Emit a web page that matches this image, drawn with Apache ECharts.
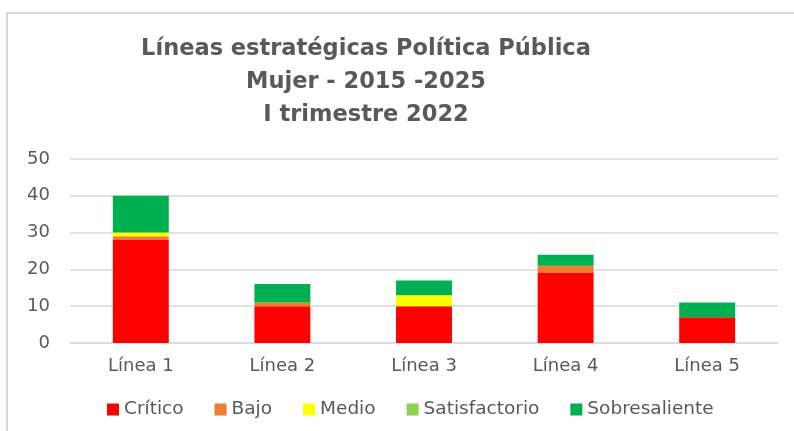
<!DOCTYPE html>
<html>
<head>
<meta charset="utf-8">
<script src="https://cdn.jsdelivr.net/npm/echarts@6/dist/echarts.min.js"></script>
<style>
html,body{margin:0;padding:0;background:#fff;}
#chart{width:794px;height:431px;}
</style>
</head>
<body>
<div id="chart"></div>
<script>
const titleText = 'Líneas estratégicas Política Pública\nMujer - 2015 -2025\nI trimestre 2022';
const categories = ['Línea 1', 'Línea 2', 'Línea 3', 'Línea 4', 'Línea 5'];
const seriesNames = ['Crítico', 'Bajo', 'Medio', 'Satisfactorio', 'Sobresaliente'];
const critico = [28, 10, 10, 19, 7];
const bajo = [1, 1, 0, 2, 0];
const medio = [1, 0, 3, 0, 0];
const satisfactorio = [0, 0, 0, 0, 0];
const sobresaliente = [10, 5, 4, 3, 4];
const yTicks = [0, 10, 20, 30, 40, 50];

const colors = ['#FF0000', '#ED7D31', '#FFFF00', '#92D050', '#00B050'];
const values = [critico, bajo, medio, satisfactorio, sobresaliente];
const textColor = '#595959';
const font = 'DejaVu Sans';

const chart = echarts.init(document.getElementById('chart'));
chart.setOption({
  animation: false,
  color: colors,
  title: {
    text: titleText,
    left: 361,
    top: 28,
    textAlign: 'center',
    textStyle: {
      fontFamily: font,
      fontWeight: 'bold',
      fontSize: 22.5,
      lineHeight: 33,
      color: textColor
    }
  },
  legend: {
    data: seriesNames,
    left: 102,
    top: 395,
    itemWidth: 12,
    itemHeight: 12,
    itemGap: 31,
    icon: 'rect',
    textStyle: { fontFamily: font, fontSize: 18.5, color: textColor }
  },
  grid: { left: 70, right: 16, top: 159, bottom: 88, containLabel: false },
  xAxis: {
    type: 'category',
    data: categories,
    axisLine: { show: true, lineStyle: { color: '#d9d9d9', width: 1.5 } },
    axisTick: { show: false },
    axisLabel: { fontFamily: font, fontSize: 18, color: textColor, margin: 14 }
  },
  yAxis: {
    type: 'value',
    min: yTicks[0],
    max: yTicks[yTicks.length - 1],
    interval: 10,
    axisLine: { show: false },
    axisTick: { show: false },
    splitLine: { lineStyle: { color: '#d9d9d9', width: 1.5 } },
    axisLabel: { fontFamily: font, fontSize: 18, color: textColor, margin: 20 }
  },
  graphic: [{
    type: 'polyline',
    shape: { points: [[7, 431], [7, 13], [794, 13]] },
    style: { stroke: '#d9d9d9', lineWidth: 2, fill: null },
    silent: true
  }],
  series: seriesNames.map((name, i) => ({
    name: name,
    type: 'bar',
    stack: 'total',
    barWidth: '39.5%',
    data: values[i],
    itemStyle: { color: colors[i] }
  }))
});
</script>
</body>
</html>
